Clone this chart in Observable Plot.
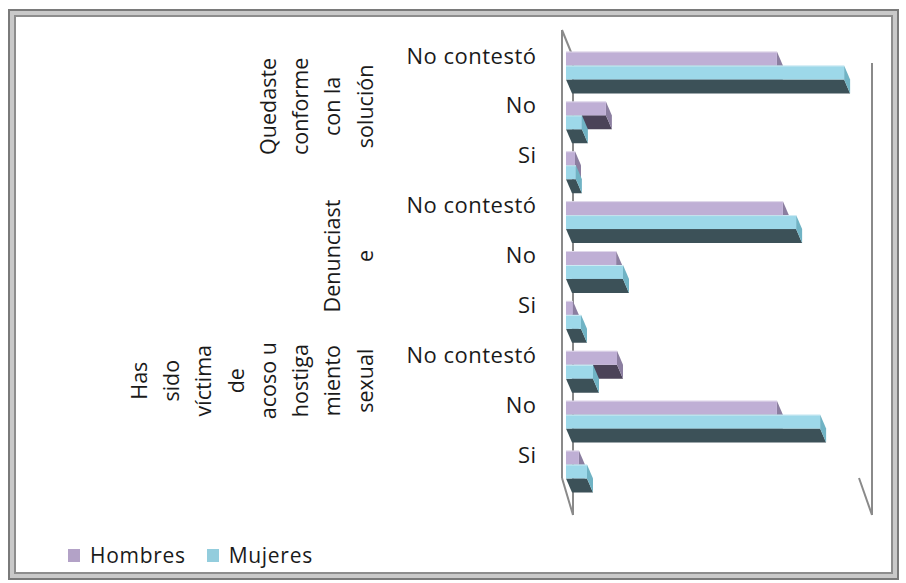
<!DOCTYPE html>
<html>
<head>
<meta charset="utf-8">
<script src="https://cdn.jsdelivr.net/npm/d3@7"></script>
<script src="https://cdn.jsdelivr.net/npm/@observablehq/plot@0.6"></script>
<style>
  html, body { margin: 0; padding: 0; background: #fff; }
  #wrap { position: relative; width: 906px; height: 583px; overflow: hidden; font-family: "Open Sans", sans-serif; }
  #frame { position: absolute; left: 8px; top: 9px; width: 887px; height: 567px;
           border: 2px solid #7a7a7a; box-shadow: inset 0 0 0 4px #c9c9c9, inset 0 0 0 6px #8d8d8d; background: #fff; }
  #chart { position: absolute; left: 0; top: 0; }
  #chart svg g[aria-label="y-axis tick label"] text { letter-spacing: 0.5px; }
  #legend { position: absolute; left: 68px; top: 541px; display: flex; align-items: center; font-size: 21px; color: #1a1a1a; letter-spacing: 0.7px; }
  .sw { display: inline-block; width: 12px; height: 13px; margin-right: 10px; }
  .item { display: flex; align-items: center; margin-right: 21px; }
</style>
</head>
<body>
<div id="wrap">
  <div id="frame"></div>
  <div id="chart"></div>
  <div id="legend"></div>
</div>
<script>
// ---- data ----
const categories = ["No contestó", "No", "Si", "No contestó", "No", "Si", "No contestó", "No", "Si"];
const groupLines = [
  ["Quedaste", "conforme", "con la", "solución"],
  ["Denunciast", "e"],
  ["Has", "sido", "víctima", "de", "acoso u", "hostiga", "miento", "sexual"]
];
const seriesNames = ["Hombres", "Mujeres"];
const hombres = [70.3, 13.3, 3.0, 72.3, 16.7, 2.3, 17.0, 70.3, 4.3];
const mujeres = [92.7, 5.3, 3.3, 76.7, 19.0, 5.0, 9.0, 84.7, 7.0];

// ---- styles ----
const colors = {
  Hombres: {front: "#bfafd5", side: "#8b7ea0", bottom: "#4b4358", legend: "#b3a2c7"},
  Mujeres: {front: "#9dd8e9", side: "#70b3c4", bottom: "#3c5158", legend: "#93cddd"}
};
const DX = 6, DY = 14; // 3D depth offset in pixels

const rowsH = categories.map((c, i) => ({row: i, value: hombres[i]}));
const rowsM = categories.map((c, i) => ({row: i, value: mujeres[i]}));

function bar3d(data, name, top, bottom) {
  const col = colors[name];
  return Plot.rect(data, {
    x1: () => 0, x2: "value",
    y1: d => d.row + top, y2: d => d.row + bottom,
    render(index, scales, values) {
      const X1 = values.x1, X2 = values.x2, Y1 = values.y1, Y2 = values.y2;
      const g = d3.create("svg:g");
      for (const i of index) {
        const a = Math.min(X1[i], X2[i]), b = Math.max(X1[i], X2[i]);
        const t = Math.min(Y1[i], Y2[i]), u = Math.max(Y1[i], Y2[i]);
        g.append("path").attr("fill", col.bottom)
          .attr("d", `M${a},${u}L${b},${u}L${b + DX},${u + DY}L${a + DX},${u + DY}Z`);
        g.append("path").attr("fill", col.side)
          .attr("d", `M${b},${t}L${b + DX},${t + DY}L${b + DX},${u + DY}L${b},${u}Z`);
        g.append("rect").attr("fill", col.front)
          .attr("x", a).attr("y", t).attr("width", b - a).attr("height", u - t);
        g.append("line").attr("stroke", "#ffffff").attr("stroke-opacity", 0.5)
          .attr("x1", a).attr("x2", b).attr("y1", t + 0.5).attr("y2", t + 0.5);
      }
      return g.node();
    }
  });
}

// walls / gridlines of the 3D box, drawn from the scales
const walls = Plot.ruleX([0], {
  render(index, scales) {
    const x0 = scales.x(0), xm = scales.x(100);
    const yTop = scales.y(0) - 26, yBot = scales.y(8) + 23;
    const segs = [
      [x0 - 4, yTop, x0 - 4, yBot],
      [x0 - 4, yBot, x0 + 7, yBot + 37],
      [x0 - 4, yTop, x0 + 7, yTop + 27],
      [x0 + 7, yTop + 27, x0 + 7, yBot + 37],
      [xm + 6, yTop + 33, xm + 6, yBot + 37],
      [xm - 7, yBot, xm + 6, yBot + 37]
    ];
    const g = d3.create("svg:g").attr("stroke", "#8a8a8a").attr("stroke-width", 2).attr("fill", "none");
    for (const [a, b, c, d] of segs) g.append("line").attr("x1", a).attr("y1", b).attr("x2", c).attr("y2", d);
    return g.node();
  }
});

const groupLabels = [
  {y: 1, text: groupLines[0].join("\n")},
  {y: 4, text: groupLines[1].join("\n")},
  {y: 6.5, text: groupLines[2].join("\n")}
];

const chart = Plot.plot({
  width: 906,
  height: 530,
  marginLeft: 566,
  marginRight: 40,
  marginTop: 20,
  marginBottom: 20,
  style: {fontFamily: "'Open Sans', sans-serif", fontSize: "22px", color: "#1a1a1a", background: "transparent"},
  x: {domain: [0, 100], range: [566, 866], axis: null},
  y: {domain: [0, 8], range: [56, 455], axis: null},
  marks: [
    walls,
    bar3d(rowsH, "Hombres", -0.09, 0.19),
    bar3d(rowsM, "Mujeres", 0.19, 0.47),
    Plot.axisY({ticks: d3.range(categories.length), tickFormat: i => categories[i], tickSize: 0, tickPadding: 30, fontSize: 22, fill: "#1a1a1a", label: null}),
    Plot.text(groupLabels, {
      frameAnchor: "left", y: "y", text: "text", rotate: -90,
      textAnchor: "middle", lineAnchor: "bottom", lineHeight: 1.5,
      dx: -194, fontSize: 21.5, fill: "#1a1a1a"
    })
  ]
});
document.getElementById("chart").appendChild(chart);

// legend
const leg = document.getElementById("legend");
for (const name of seriesNames) {
  const it = document.createElement("span");
  it.className = "item";
  const sw = document.createElement("span");
  sw.className = "sw";
  sw.style.background = colors[name].legend;
  it.appendChild(sw);
  it.appendChild(document.createTextNode(name));
  leg.appendChild(it);
}
</script>
</body>
</html>
